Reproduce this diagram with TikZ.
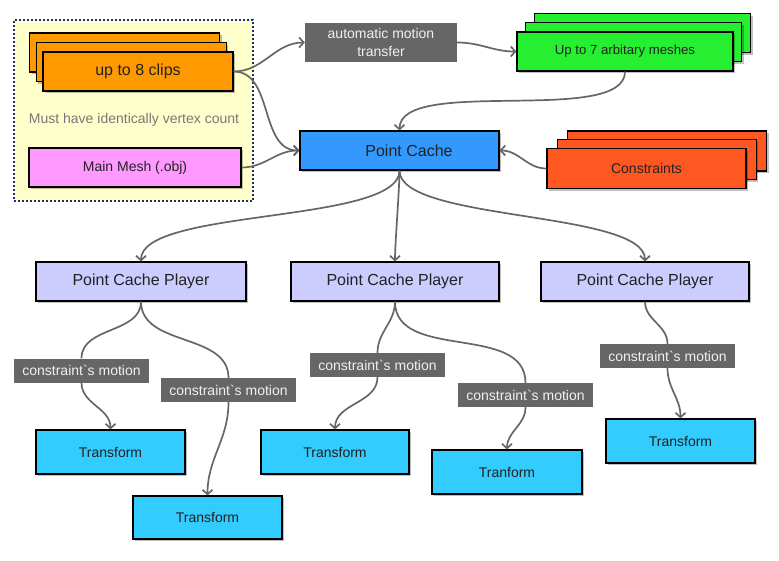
\documentclass[tikz,border=0pt]{standalone}
\usepackage{fontspec}
\setmainfont{Liberation Sans}
\usetikzlibrary{arrows.meta,shadows}
\definecolor{frameFill}{HTML}{FFFFCC}
\definecolor{frameLine}{HTML}{1F2E7A}
\definecolor{clipOrange}{HTML}{FF9900}
\definecolor{meshPink}{HTML}{FF99FF}
\definecolor{meshGreen}{HTML}{26EE30}
\definecolor{cacheBlue}{HTML}{3399FF}
\definecolor{consRed}{HTML}{FF5722}
\definecolor{playerLilac}{HTML}{CCCCFF}
\definecolor{xformCyan}{HTML}{33CCFF}
\definecolor{tagGrey}{HTML}{666666}
\definecolor{inkDark}{HTML}{222222}
\tikzset{
	box/.style={draw=black,line width=1.2pt,inner sep=0pt,text=inkDark,
		font=\fontsize{14}{16}\selectfont,
		drop shadow={shadow xshift=2pt,shadow yshift=-2pt,opacity=0.25,fill=black}},
	bigtext/.style={font=\fontsize{16}{18}\selectfont},
	tag/.style={fill=tagGrey,text=white!94!black,inner sep=0pt,minimum width=135pt,
		minimum height=24pt,font=\fontsize{14}{16}\selectfont},
	flow/.style={draw=tagGrey,line width=1.7pt},
	feed/.style={flow,-{Straight Barb[length=4.5pt,width=10pt]}}
}
% three stacked cards, front one carries the text
\def\pile[#1](#2)(#3,#4)(#5,#6)#7{
	\node[box,#1] (#2-3) at ({#3+2*#5},{#4+2*#6}) {};
	\node[box,#1] (#2-2) at ({#3+#5},{#4+#6}) {};
	\node[box,#1] (#2) at (#3,#4) {#7}; }

\begin{document}
\begin{tikzpicture}[x=1pt,y=1pt]
	\useasboundingbox (0,0) rectangle (779,-560);
	% input group
	\node[draw=frameLine,fill=frameFill,line width=1.6pt,dash pattern=on 2pt off 2pt,
	minimum width=239pt,minimum height=181pt,inner sep=0pt] (grp) at (133.5,-110.5) {};
	\pile[fill=clipOrange,minimum width=190pt,minimum height=39pt,bigtext](clips)(138,-71.5)(-6.75,9.5){up to 8 clips}
	\node[text=black!53,font=\fontsize{14}{16}\selectfont] (cnt) at (134,-120) {Must have identically vertex count};
	\node[box,fill=meshPink,minimum width=212pt,minimum height=39pt] (mesh) at (135,-167.5) {Main Mesh (.obj)};
	% top row
	\node[tag,minimum width=152pt,minimum height=39pt,align=center,
	font=\fontsize{14}{18.5}\selectfont] (amt) at (381,-42.5) {automatic motion\\transfer};
	\pile[fill=meshGreen,minimum width=216pt,minimum height=39pt,
	font=\fontsize{13.2}{15}\selectfont](green)(625,-51.5)(8.75,9.25){Up to 7 arbitary meshes}
	\node[box,fill=cacheBlue,minimum width=199pt,minimum height=39pt,bigtext] (pc) at (399.5,-150.5) {\hspace*{19pt}Point Cache};
	\pile[fill=consRed,minimum width=199pt,minimum height=40pt](cons)(646.5,-168.5)(10.25,8.75){Constraints}
	% players
	\node[box,fill=playerLilac,minimum width=210pt,minimum height=39pt,bigtext] (p1) at (141,-281.5) {Point Cache Player};
	\node[box,fill=playerLilac,minimum width=208pt,minimum height=39pt,bigtext] (p2) at (395,-281.5) {Point Cache Player};
	\node[box,fill=playerLilac,minimum width=208pt,minimum height=39pt,bigtext] (p3) at (645,-281.5) {Point Cache Player};
	% motion labels
	\node[tag] (c1) at (81.5,-370.5) {constraint\textasciigrave s motion};
	\node[tag] (c2) at (228.5,-390) {constraint\textasciigrave s motion};
	\node[tag] (c3) at (377.5,-365) {constraint\textasciigrave s motion};
	\node[tag] (c4) at (525.5,-395) {constraint\textasciigrave s motion};
	\node[tag] (c5) at (667.5,-356) {constraint\textasciigrave s motion};
	% transforms
	\node[box,fill=xformCyan,minimum width=149pt,minimum height=44pt] (t1) at (110.5,-452) {Transform};
	\node[box,fill=xformCyan,minimum width=149pt,minimum height=43pt] (t2) at (207.5,-517.5) {Transform};
	\node[box,fill=xformCyan,minimum width=148pt,minimum height=44pt] (t3) at (335,-452) {Transform};
	\node[box,fill=xformCyan,minimum width=150pt,minimum height=44pt] (t4) at (507,-472) {Tranform};
	\node[box,fill=xformCyan,minimum width=149pt,minimum height=44pt] (t5) at (680.5,-441) {Transform};
	% connectors
	\draw[feed] (clips.east) to[out=0,in=180] (amt.west);
	\draw[feed] (clips.east) to[out=0,in=180] (pc.west);
	\draw[feed] (mesh.east) to[out=0,in=180] (pc.west);
	\draw[feed] (amt.east) to[out=0,in=180] (green.west);
	\draw[feed] (green.south) to[out=-90,in=90,looseness=.6] (pc.north);
	\draw[feed] (cons.west) to[out=180,in=0] (pc.east);
	\foreach \p in {p1,p2,p3}
	\draw[feed] (pc.south) to[out=-90,in=90,looseness=.5] (\p.north);
	\foreach \a/\b/\c in {p1/c1/t1,p1/c2/t2,p2/c3/t3,p2/c4/t4,p3/c5/t5}{
		\draw[flow] (\a.south) to[out=-90,in=90] (\b.north);
		\draw[feed] (\b.south) to[out=-90,in=90] (\c.north);
	}
\end{tikzpicture}
\end{document}
